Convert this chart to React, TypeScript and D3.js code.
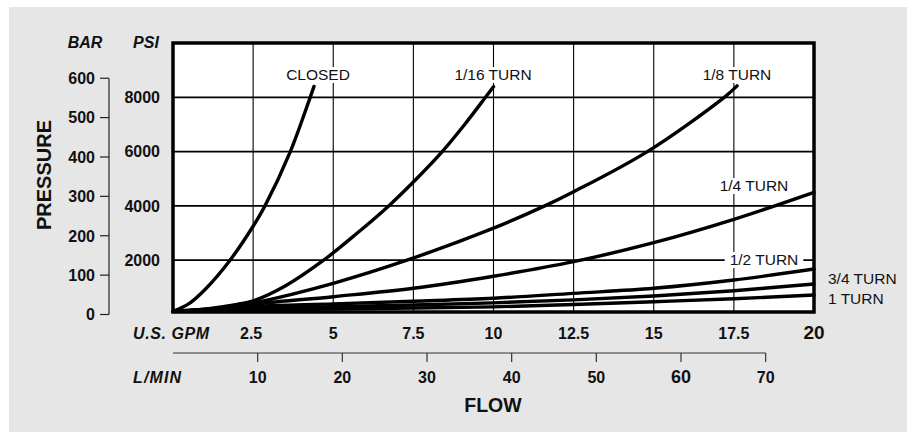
import * as d3 from "d3";
import React, { useEffect, useRef } from "react";

// flow ticks (U.S. GPM) and L/MIN ticks
const gpmTicks = [2.5, 5, 7.5, 10, 12.5, 15, 17.5, 20];
const lpmTicks = [10, 20, 30, 40, 50, 60, 70];
const psiTicks = [2000, 4000, 6000, 8000];
const barTicks = [0, 100, 200, 300, 400, 500, 600];

// [GPM, PSI]
const closed = [[0, 120], [0.5, 400], [1.0, 920], [1.78, 2000], [2.5, 3250], [2.87, 4000], [3.66, 6000], [4.28, 8000], [4.4, 8400]];
const turn16 = [[0, 120], [1, 200], [2, 370], [2.5, 500], [3.5, 1050], [4.7, 2000], [5.75, 3000], [6.73, 4000], [7.6, 5000], [8.4, 6000], [9.1, 7000], [9.75, 8000], [10, 8390]];
const turn8 = [[0, 120], [1, 190], [2, 320], [2.5, 420], [5, 1150], [7.3, 2000], [10, 3180], [11.6, 4000], [12.5, 4520], [14.8, 6000], [17.2, 8000], [17.6, 8420]];
const turn4 = [[0, 120], [1, 170], [2, 290], [2.5, 380], [5, 656], [7.5, 965], [10, 1410], [12.5, 1945], [15, 2645], [17.5, 3505], [20, 4500]];
const turn2 = [[0, 120], [2.5, 300], [5, 390], [7.5, 490], [10, 600], [12.5, 780], [15, 965], [17.5, 1270], [20, 1676]];
const turn34 = [[0, 120], [2.5, 230], [5, 290], [7.5, 350], [10, 430], [12.5, 540], [15, 681], [17.5, 877], [20, 1123]];
const turn1 = [[0, 120], [2.5, 160], [5, 200], [7.5, 240], [10, 280], [12.5, 370], [15, 471], [17.5, 580], [20, 718]];
const curves = [closed, turn16, turn8, turn4, turn2, turn34, turn1];

const curveLabels = [
  { text: "CLOSED", x: 318, y: 80, anchor: "middle", bg: true, pad: 3 },
  { text: "1/16 TURN", x: 493, y: 80, anchor: "middle", bg: true, pad: 3 },
  { text: "1/8 TURN", x: 737, y: 80, anchor: "middle", bg: true, pad: 3 },
  { text: "1/4 TURN", x: 754, y: 191, anchor: "middle", bg: true, pad: 3 },
  { text: "1/2 TURN", x: 764, y: 265, anchor: "middle", bg: true, pad: 5 },
  { text: "3/4 TURN", x: 828, y: 284, anchor: "start", bg: false, pad: 0 },
  { text: "1 TURN", x: 828, y: 304, anchor: "start", bg: false, pad: 0 },
];

const FONT = "'Liberation Sans', Arial, Helvetica, sans-serif";

function drawChart(node: SVGSVGElement) {
  const svg = d3.select(node);
  svg.selectAll("*").remove();

  const left = 173, right = 814, top = 43, bottom = 312;
  const x = d3.scaleLinear().domain([0, 20]).range([left, right]);
  const y = d3.scaleLinear().domain([0, 10000]).range([314.5, 43]);
  const lpm = d3.scaleLinear().domain([0, 20 * 3.78541]).range([left, right]);
  const bar = (b: number) => y(b * 14.5038);

  // page background
  svg.append("rect").attr("x", 9).attr("y", 7).attr("width", 898).attr("height", 425).attr("fill", "#e6e6e6");

  // plot area
  svg.append("rect").attr("x", left).attr("y", top).attr("width", right - left).attr("height", bottom - top).attr("fill", "#fff");

  const grid = svg.append("g");
  grid.selectAll("line.v")
    .data(gpmTicks.filter(d => d < 20))
    .join("line")
    .attr("x1", d => x(d)).attr("x2", d => x(d))
    .attr("y1", top).attr("y2", bottom)
    .attr("stroke", "#000").attr("stroke-width", 1.1);
  grid.selectAll("line.h")
    .data(psiTicks)
    .join("line")
    .attr("x1", left).attr("x2", right)
    .attr("y1", d => y(d)).attr("y2", d => y(d))
    .attr("stroke", "#000").attr("stroke-width", 1.8);

  const line = d3.line<number[]>().x(d => x(d[0])).y(d => y(d[1])).curve(d3.curveCatmullRom.alpha(0.5));
  svg.append("g")
    .selectAll("path")
    .data(curves)
    .join("path")
    .attr("d", d => line(d))
    .attr("fill", "none")
    .attr("stroke", "#000")
    .attr("stroke-width", 3.4)
    .attr("stroke-linecap", "round");

  // curve labels with white backing
  const lab = svg.append("g").attr("font-family", FONT).attr("font-size", 15.5);
  curveLabels.forEach(l => {
    const t = lab.append("text")
      .attr("x", l.x).attr("y", l.y)
      .attr("text-anchor", l.anchor)
      .attr("fill", "#111")
      .text(l.text);
    if (l.bg) {
      const b = (t.node() as SVGTextElement).getBBox();
      lab.insert("rect", () => t.node())
        .attr("x", b.x - l.pad).attr("y", b.y + 1)
        .attr("width", b.width + 2 * l.pad).attr("height", b.height - 1)
        .attr("fill", "#fff");
    }
  });

  // frame
  svg.append("rect").attr("x", left).attr("y", top).attr("width", right - left).attr("height", bottom - top)
    .attr("fill", "none").attr("stroke", "#000").attr("stroke-width", 3.5);

  const axisText = svg.append("g").attr("font-family", FONT).attr("font-weight", "bold").attr("fill", "#111");

  // PSI labels
  axisText.selectAll("text.psi")
    .data(psiTicks)
    .join("text")
    .attr("x", 160).attr("y", d => y(d))
    .attr("dy", "0.36em")
    .attr("text-anchor", "end")
    .attr("font-size", 16)
    .text(d => d);

  // BAR axis
  const barG = svg.append("g");
  barG.append("line").attr("x1", 109).attr("x2", 109).attr("y1", bar(600)).attr("y2", bar(0))
    .attr("stroke", "#222").attr("stroke-width", 1.2);
  barG.selectAll("line.t")
    .data(barTicks)
    .join("line")
    .attr("x1", 100).attr("x2", 109)
    .attr("y1", d => bar(d)).attr("y2", d => bar(d))
    .attr("stroke", "#222").attr("stroke-width", 1.2);
  axisText.selectAll("text.bar")
    .data(barTicks)
    .join("text")
    .attr("x", 95).attr("y", d => bar(d))
    .attr("dy", "0.36em")
    .attr("text-anchor", "end")
    .attr("font-size", 16)
    .text(d => d);

  axisText.append("text").attr("x", 85).attr("y", 48).attr("text-anchor", "middle").attr("font-style", "italic").attr("font-size", 16).text("BAR");
  axisText.append("text").attr("x", 146).attr("y", 48).attr("text-anchor", "middle").attr("font-style", "italic").attr("font-size", 16).text("PSI");
  axisText.append("text")
    .attr("transform", "translate(51,175) rotate(-90)")
    .attr("text-anchor", "middle")
    .attr("font-size", 20)
    .text("PRESSURE");

  // GPM labels
  axisText.selectAll("text.gpm")
    .data(gpmTicks)
    .join("text")
    .attr("x", d => x(d) - (d === 2.5 ? 2 : 0)).attr("y", 339)
    .attr("text-anchor", "middle")
    .attr("font-size", d => (d === 20 ? 19 : 16))
    .text(d => d);
  axisText.append("text").attr("x", 133).attr("y", 339).attr("font-style", "italic").attr("font-size", 16).attr("textLength", 76).text("U.S. GPM");

  // L/MIN axis
  const lg = svg.append("g");
  lg.append("line").attr("x1", left).attr("x2", lpm(70)).attr("y1", 353).attr("y2", 353).attr("stroke", "#333").attr("stroke-width", 1.2);
  lg.selectAll("line.t")
    .data(lpmTicks)
    .join("line")
    .attr("x1", d => lpm(d)).attr("x2", d => lpm(d))
    .attr("y1", 353).attr("y2", 362)
    .attr("stroke", "#333").attr("stroke-width", 1.2);
  axisText.selectAll("text.lpm")
    .data(lpmTicks)
    .join("text")
    .attr("x", d => lpm(d)).attr("y", 383)
    .attr("text-anchor", "middle")
    .attr("font-size", d => (d === 60 ? 18 : 16))
    .text(d => d);
  axisText.append("text").attr("x", 133).attr("y", 383).attr("font-style", "italic").attr("font-size", 16).attr("textLength", 48).text("L/MIN");

  axisText.append("text").attr("x", 493).attr("y", 412).attr("text-anchor", "middle").attr("font-size", 19.5).text("FLOW");
}

export default function App() {
  const ref = useRef<SVGSVGElement>(null);
  useEffect(() => {
    if (ref.current) drawChart(ref.current);
  }, []);
  return (
    <svg
      ref={ref}
      width={907}
      height={432}
      style={{ position: "absolute", left: 0, top: 0, background: "#fff" }}
    />
  );
}
